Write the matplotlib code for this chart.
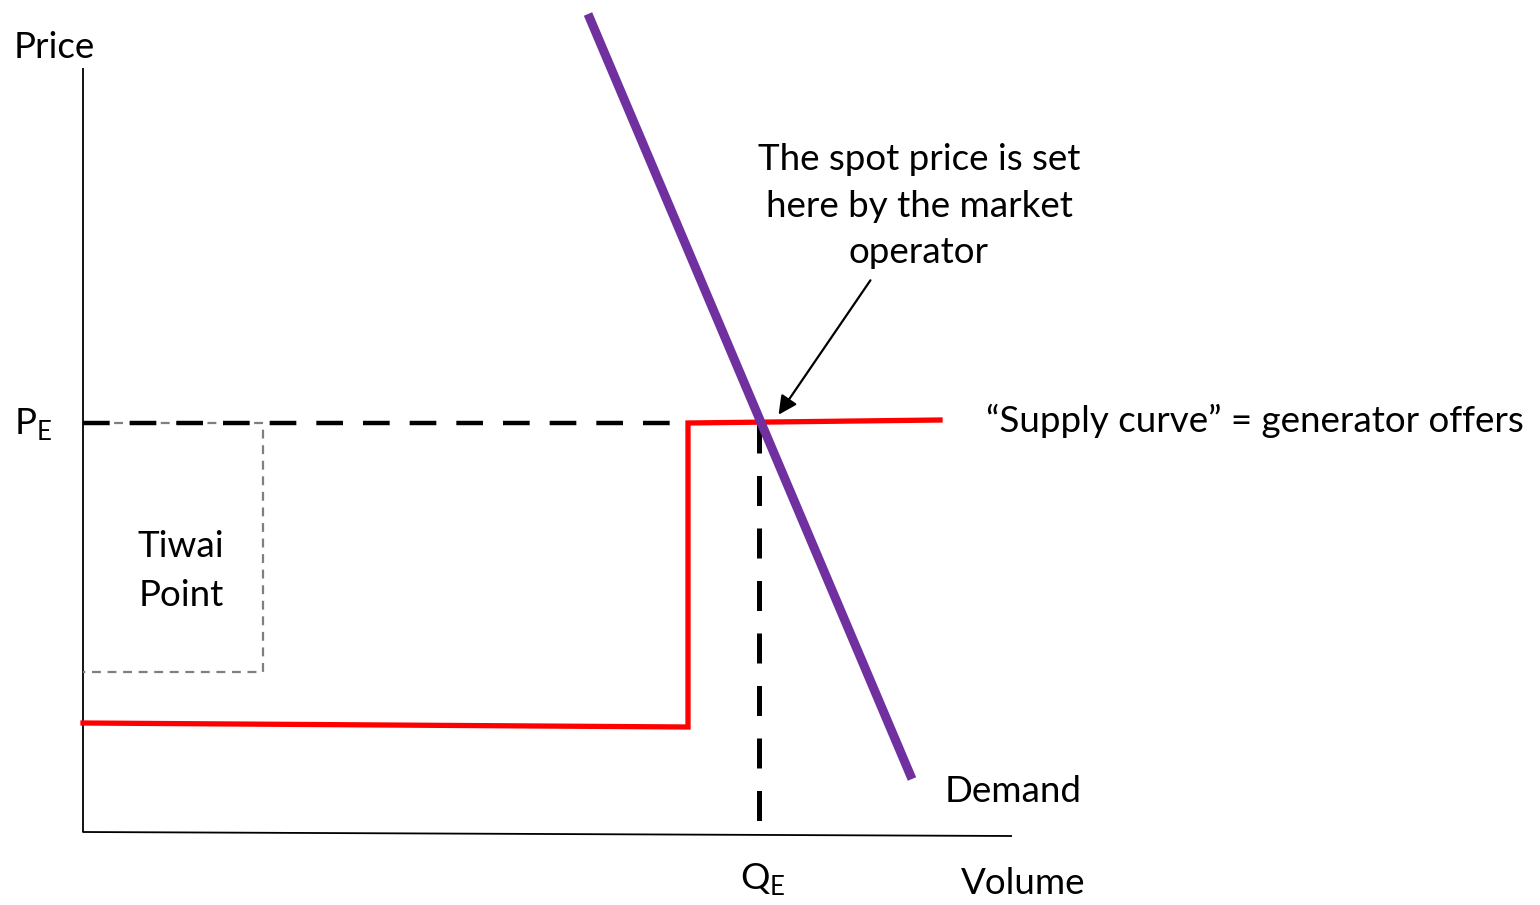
"""
Electricity spot market diagram: stepped generator offers vs. demand,
with the Tiwai Point block marked under the clearing price.
"""

import matplotlib.pyplot as plt

# ---------------------------------------------------------------------------
# Diagram geometry (canvas pixel units, y grows downward)
# ---------------------------------------------------------------------------
W, H = 1540, 905

axis_x = [83, 83, 1012]
axis_y = [68, 832, 836]

supply_x = [83, 688, 688, 940]
supply_y = [723, 727, 423, 420]

demand_x = [588, 912]
demand_y = [14, 779]

pe_line_x = [83, 690]
pe_line_y = [423, 423]

qe_line_x = [759, 759]
qe_line_y = [423, 826]

tiwai_x = [83, 263, 263, 83]
tiwai_y = [423, 423, 672, 672]

arrow_tail = (872, 278)
arrow_head = (777, 417)

INK = "#000000"
RED = "#ff0000"
PURPLE = "#7030a0"
GREY = "#7f7f7f"

plt.rcParams["font.family"] = ["Lato", "DejaVu Sans"]

fig = plt.figure(figsize=(W / 100, H / 100), dpi=100)
ax = fig.add_axes([0, 0, 1, 1])
ax.set_xlim(0, W)
ax.set_ylim(H, 0)
ax.axis("off")

# axes of the diagram
ax.plot(axis_x, axis_y, color=INK, lw=1.3, solid_capstyle="butt")

# Tiwai Point block
ax.plot(tiwai_x, tiwai_y, color=GREY, lw=1.6, dashes=(4, 3))

# equilibrium guides
ax.plot(pe_line_x, pe_line_y, color=INK, lw=3.2, dashes=(6, 4.5))
ax.plot(qe_line_x, qe_line_y, color=INK, lw=3.6, dashes=(6, 4.5))

# supply and demand
ax.plot(supply_x, supply_y, color=RED, lw=3.8, solid_joinstyle="miter")
ax.plot(demand_x, demand_y, color=PURPLE, lw=6.5, solid_capstyle="butt")

ax.annotate("", xy=arrow_head, xytext=arrow_tail,
            arrowprops=dict(arrowstyle="-|>", color=INK, lw=1.6, mutation_scale=28))

fs = 26.5
ax.text(14, 48, "Price", fontsize=fs, ha="left", va="center")
ax.text(14, 425, r"P$_{\mathregular{E}}$", fontsize=fs, ha="left", va="center")
ax.text(740, 880, r"Q$_{\mathregular{E}}$", fontsize=fs, ha="left", va="center")
ax.text(961, 883, "Volume", fontsize=fs, ha="left", va="center")
ax.text(945, 791, "Demand", fontsize=fs, ha="left", va="center")
ax.text(181, 571, "Tiwai\nPoint", fontsize=fs, ha="center", va="center", linespacing=1.58)
ax.text(919, 206, "The spot price is set\nhere by the market\noperator", fontsize=fs,
        ha="center", va="center", linespacing=1.49)
ax.text(986, 421, "\u201cSupply curve\u201d = generator offers", fontsize=fs,
        ha="left", va="center")

fig.savefig("out.png", dpi=100)
